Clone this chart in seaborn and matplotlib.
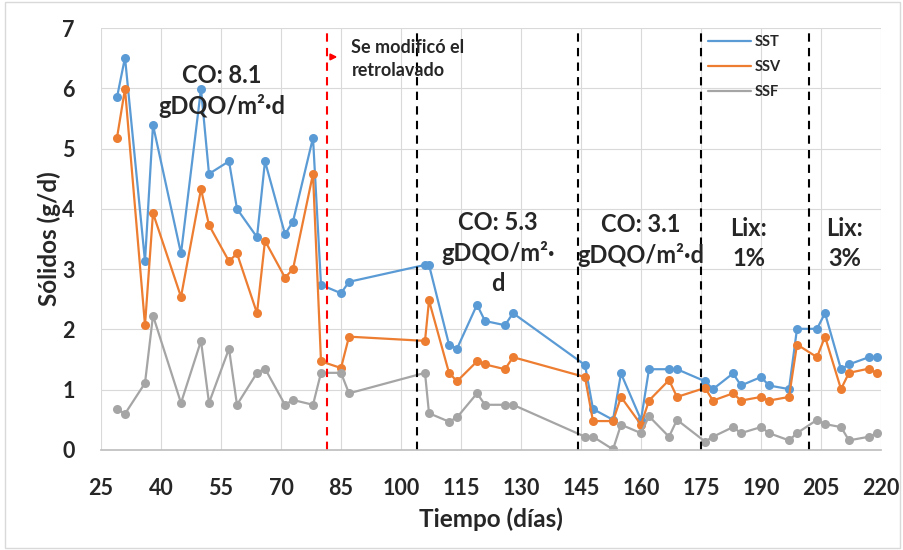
import matplotlib
matplotlib.use("Agg")
import matplotlib.pyplot as plt
import seaborn as sns
import pandas as pd
from matplotlib.lines import Line2D
from matplotlib.patches import Rectangle

days = [29, 31, 36, 38, 45, 50, 52, 57, 59, 64, 66, 71, 73, 78, 80, 85, 87,
        106, 107, 112, 114, 119, 121, 126, 128,
        146, 148, 153, 155, 160, 162, 167, 169,
        176, 178, 183, 185, 190, 192, 197, 199,
        204, 206, 210, 212, 217, 219]
sst = [5.85, 6.51, 3.13, 5.39, 3.26, 5.99, 4.58, 4.79, 4.0, 3.53, 4.79, 3.58, 3.79, 5.18, 2.74, 2.6, 2.79,
       3.07, 3.07, 1.75, 1.68, 2.41, 2.14, 2.07, 2.27,
       1.41, 0.68, 0.5, 1.27, 0.5, 1.34, 1.34, 1.34,
       1.14, 1.01, 1.27, 1.07, 1.21, 1.07, 1.01, 2.01,
       2.01, 2.27, 1.34, 1.42, 1.54, 1.54]
ssv = [5.18, 5.99, 2.07, 3.93, 2.54, 4.33, 3.73, 3.13, 3.26, 2.27, 3.47, 2.86, 3.0, 4.58, 1.47, 1.36, 1.88,
       1.81, 2.48, 1.28, 1.14, 1.47, 1.42, 1.34, 1.54,
       1.21, 0.48, 0.48, 0.88, 0.42, 0.82, 1.16, 0.88,
       1.03, 0.82, 0.94, 0.82, 0.88, 0.82, 0.88, 1.75,
       1.54, 1.88, 1.01, 1.28, 1.35, 1.27]
ssf = [0.68, 0.60, 1.11, 2.23, 0.78, 1.81, 0.78, 1.68, 0.75, 1.28, 1.35, 0.75, 0.83, 0.75, 1.28, 1.28, 0.94,
       1.28, 0.61, 0.47, 0.54, 0.94, 0.75, 0.75, 0.75,
       0.22, 0.22, 0.01, 0.42, 0.28, 0.56, 0.22, 0.5,
       0.14, 0.22, 0.38, 0.28, 0.38, 0.28, 0.16, 0.28,
       0.5, 0.43, 0.38, 0.16, 0.22, 0.28]
series_names = ["SST", "SSV", "SSF"]
x_ticks = list(range(25, 221, 15))
y_ticks = list(range(0, 8))

red_line_day = 81.5
black_line_days = [104, 144.3, 175, 202]

colors = {"SST": "#5B9BD5", "SSV": "#ED7D31", "SSF": "#A5A5A5"}

df = pd.concat([
    pd.DataFrame({"day": days, "value": v, "serie": n})
    for n, v in zip(series_names, [sst, ssv, ssf])
])

sns.set_theme(style="white")
plt.rcParams["font.family"] = ["Lato", "DejaVu Sans"]

fig = plt.figure(figsize=(9.04, 5.5), dpi=100)
ax = fig.add_axes([101 / 904, 1 - 450 / 550, 780 / 904, 422 / 550])

sns.lineplot(data=df, x="day", y="value", hue="serie", hue_order=series_names,
             palette=colors, marker="o", markersize=6.5, markeredgewidth=0,
             linewidth=1.6, sort=False, estimator=None, ax=ax, legend=False)

ax.set_xlim(25, 220)
ax.set_ylim(0, 7)
ax.set_xticks(x_ticks)
ax.set_yticks(y_ticks)
ax.grid(True, color="#D9D9D9", linewidth=0.8)
for s in ["top", "right", "left"]:
    ax.spines[s].set_visible(False)
ax.spines["bottom"].set_color("#BFBFBF")
ax.tick_params(axis="both", length=0, labelsize=15.5)
ax.tick_params(axis="x", pad=20)
ax.tick_params(axis="y", pad=19)
for lbl in ax.get_xticklabels() + ax.get_yticklabels():
    lbl.set_fontweight("bold")
ax.set_xlabel("Tiempo (días)", fontsize=17.5, fontweight="bold", labelpad=6)
ax.set_ylabel("Sólidos (g/d)", fontsize=17.5, fontweight="bold", labelpad=1)

ax.axvline(red_line_day, color="#FF0000", linestyle=(0, (4, 3)), linewidth=1.5)
for d in black_line_days:
    ax.axvline(d, color="black", linestyle=(0, (4, 3)), linewidth=1.5)

ax.annotate("", xy=(84.8, 6.52), xytext=(82.0, 6.52),
            arrowprops=dict(arrowstyle="-|>", color="#FF0000", lw=1.4, mutation_scale=9))
ax.text(87.6, 6.49, "Se modificó el\nretrolavado", fontsize=13, fontweight="bold",
        ha="left", va="center", linespacing=1.45)

big = dict(fontsize=17, fontweight="bold", ha="center", va="center", linespacing=1.35)
ax.text(55.2, 5.95, "CO: 8.1\ngDQO/m²·d", **big)
ax.text(124.3, 3.27, "CO: 5.3\ngDQO/m²·\nd", **big)
ax.text(160, 3.48, "CO: 3.1\ngDQO/m²·d", **big)
ax.text(187, 3.43, "Lix:\n1%", **big)
ax.text(211, 3.43, "Lix:\n3%", **big)

handles = [Line2D([0], [0], color=colors[n], linewidth=1.6) for n in series_names]
leg = ax.legend(handles, series_names, loc="upper left", bbox_to_anchor=(0.762, 1.015),
                frameon=False, prop={"weight": "bold", "size": 10.5}, handlelength=2.9,
                labelspacing=0.75, handletextpad=0.25)

fig.add_artist(Rectangle((0.006, 0.004), 0.99, 0.992, transform=fig.transFigure,
                         fill=False, edgecolor="#D9D9D9", linewidth=1))

fig.savefig("out.png", dpi=100)
